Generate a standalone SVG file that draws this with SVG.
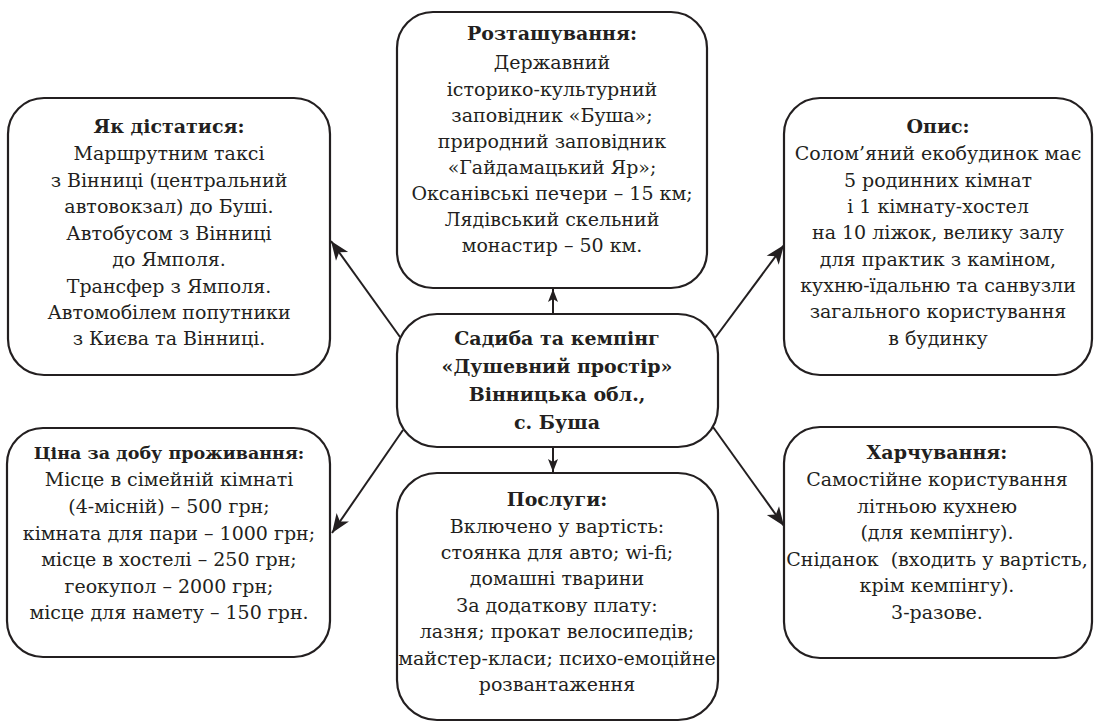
<svg xmlns="http://www.w3.org/2000/svg" width="1094" height="722" viewBox="0 0 1094 722">
<defs>
<style>
.box{fill:#fff;stroke:#231f20;stroke-width:2.2}
.t{fill:#231f20;text-anchor:middle;font-family:"DejaVu Serif",serif;font-size:19px}
.b{font-weight:bold}
.c{stroke:#231f20;stroke-width:2;fill:none}
</style>
<marker id="ah" markerUnits="userSpaceOnUse" markerWidth="24" markerHeight="16" viewBox="-20 -8 22 16" refX="0" refY="0" orient="auto">
<path d="M0,0 L-19,-7.5 L-14,0 L-19,7.5 Z" fill="#231f20"/>
</marker>
<marker id="ahs" markerUnits="userSpaceOnUse" markerWidth="16" markerHeight="12" viewBox="-14 -6 16 12" refX="0" refY="0" orient="auto">
<path d="M0,0 L-13,-5 L-10,0 L-13,5 Z" fill="#231f20"/>
</marker>
</defs>
<rect width="1094" height="722" fill="#fff"/>

<g id="connectors">
<line class="c" x1="400" y1="337" x2="331" y2="241" marker-end="url(#ah)"/>
<line class="c" x1="715" y1="338" x2="784" y2="245" marker-end="url(#ah)"/>
<line class="c" x1="403" y1="430" x2="332" y2="533" marker-end="url(#ah)"/>
<line class="c" x1="713" y1="427" x2="784" y2="526" marker-end="url(#ah)"/>
<line class="c" x1="553" y1="314" x2="553" y2="289" marker-end="url(#ahs)"/>
<line class="c" x1="553" y1="447" x2="553" y2="472" marker-end="url(#ahs)"/>
</g>

<g id="node-location">
<rect class="box" x="397" y="12" width="310" height="276" rx="36"/>
<text class="t b" x="552" y="40">Розташування:</text>
<text class="t" x="552" y="69">Державний</text>
<text class="t" x="552" y="96">історико-культурний</text>
<text class="t" x="552" y="122">заповідник «Буша»;</text>
<text class="t" x="552" y="148">природний заповідник</text>
<text class="t" x="552" y="174">«Гайдамацький Яр»;</text>
<text class="t" x="552" y="200">Оксанівські печери – 15 км;</text>
<text class="t" x="552" y="226">Лядівський скельний</text>
<text class="t" x="552" y="252">монастир – 50 км.</text>
</g>

<g id="node-how">
<rect class="box" x="8" y="98" width="322" height="277" rx="36"/>
<text class="t b" x="169" y="133">Як дістатися:</text>
<text class="t" x="169" y="160">Маршрутним таксі</text>
<text class="t" x="169" y="187">з Вінниці (центральний</text>
<text class="t" x="169" y="213">автовокзал) до Буші.</text>
<text class="t" x="169" y="240">Автобусом з Вінниці</text>
<text class="t" x="169" y="266">до Ямполя.</text>
<text class="t" x="169" y="293">Трансфер з Ямполя.</text>
<text class="t" x="169" y="319">Автомобілем попутники</text>
<text class="t" x="169" y="345">з Києва та Вінниці.</text>
</g>

<g id="node-desc">
<rect class="box" x="784" y="98" width="308" height="277" rx="36"/>
<text class="t b" x="938" y="133">Опис:</text>
<text class="t" x="938" y="160">Солом’яний екобудинок має</text>
<text class="t" x="938" y="187">5 родинних кімнат</text>
<text class="t" x="938" y="213">і 1 кімнату-хостел</text>
<text class="t" x="938" y="239">на 10 ліжок, велику залу</text>
<text class="t" x="938" y="266">для практик з каміном,</text>
<text class="t" x="938" y="292">кухню-їдальню та санвузли</text>
<text class="t" x="938" y="318">загального користування</text>
<text class="t" x="938" y="345">в будинку</text>
</g>

<g id="node-center">
<rect class="box" x="397" y="314" width="321" height="133" rx="40"/>
<text class="t b" x="557" y="345">Садиба та кемпінг</text>
<text class="t b" x="557" y="373">«Душевний простір»</text>
<text class="t b" x="557" y="401">Вінницька обл.,</text>
<text class="t b" x="557" y="429">с. Буша</text>
</g>

<g id="node-price">
<rect class="box" x="7" y="428" width="323" height="229" rx="36"/>
<text class="t b" x="169" y="459" style="font-size:17.5px">Ціна за добу проживання:</text>
<text class="t" x="169" y="486">Місце в сімейній кімнаті</text>
<text class="t" x="169" y="513">(4-місній) – 500 грн;</text>
<text class="t" x="169" y="540">кімната для пари – 1000 грн;</text>
<text class="t" x="169" y="566">місце в хостелі – 250 грн;</text>
<text class="t" x="169" y="593">геокупол – 2000 грн;</text>
<text class="t" x="169" y="619">місце для намету – 150 грн.</text>
</g>

<g id="node-services">
<rect class="box" x="397" y="473" width="321" height="247" rx="40"/>
<text class="t b" x="557" y="506">Послуги:</text>
<text class="t" x="557" y="533">Включено у вартість:</text>
<text class="t" x="557" y="559">стоянка для авто; wi-fi;</text>
<text class="t" x="557" y="585">домашні тварини</text>
<text class="t" x="557" y="612">За додаткову плату:</text>
<text class="t" x="557" y="638">лазня; прокат велосипедів;</text>
<text class="t" x="557" y="665">майстер-класи; психо-емоційне</text>
<text class="t" x="557" y="691">розвантаження</text>
</g>

<g id="node-food">
<rect class="box" x="784" y="427" width="308" height="231" rx="36"/>
<text class="t b" x="937" y="459">Харчування:</text>
<text class="t" x="937" y="486">Самостійне користування</text>
<text class="t" x="937" y="513">літньою кухнею</text>
<text class="t" x="937" y="539">(для кемпінгу).</text>
<text class="t" x="937" y="566" xml:space="preserve">Сніданок  (входить у вартість,</text>
<text class="t" x="937" y="592">крім кемпінгу).</text>
<text class="t" x="937" y="619">3-разове.</text>
</g>
</svg>
